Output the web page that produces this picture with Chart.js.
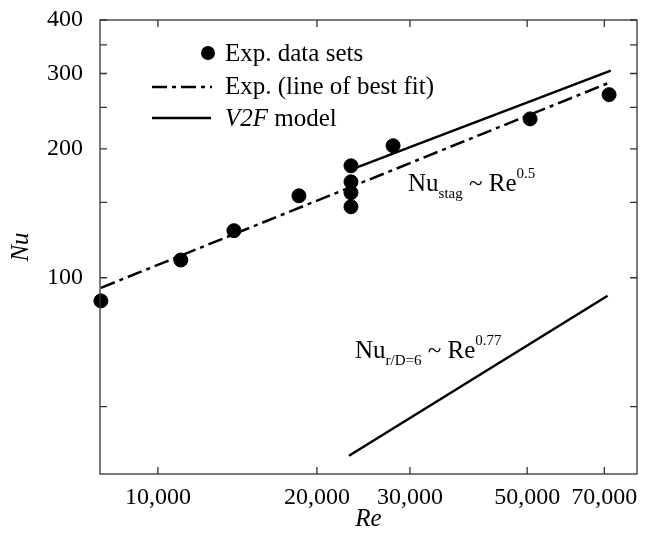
<!DOCTYPE html>
<html>
<head>
<meta charset="utf-8">
<script src="https://cdn.jsdelivr.net/npm/chart.js@4.4.1/dist/chart.umd.min.js"></script>
<style>
  html, body { margin: 0; padding: 0; background: #fff; }
</style>
</head>
<body>
<canvas id="chart" width="645" height="542"></canvas>
<script>
// Stagnation Nusselt number vs Reynolds number (log-log)

// experimental data sets
const expRe = [7800, 11050, 13930, 18490, 23200, 23200, 23200, 23200, 27870, 50640, 71450];
const expNu = [88.3, 110, 128.8, 155.4, 182.6, 167.5, 158, 146.5, 203.4, 235, 267.7];

// line of best fit (Nu ~ Re^0.5)
const fitRe = [7800, 71500];
const fitNu = [94.7, 285.5];

// V2F model, stagnation
const v2fRe = [23200, 72000];
const v2fNu = [178.8, 304.6];

// V2F model, r/D = 6
const v2fOffRe = [23000, 71000];
const v2fOffNu = [38.4, 90.8];

const reTicks = [10000, 20000, 30000, 50000, 70000];
const nuTicks = [100, 200, 300, 400];
const nuMinorTicks = [50, 150, 250, 350];

const FONT = '"Liberation Serif", "DejaVu Serif", serif';
const DASH = [15, 5, 4, 5];

const pts = (xs, ys) => xs.map((x, i) => ({ x: x, y: ys[i] }));

// draws text made of runs (normal / sub / sup)
function drawRuns(ctx, x, y, runs) {
  ctx.textBaseline = 'alphabetic';
  ctx.textAlign = 'left';
  runs.forEach(r => {
    ctx.font = (r.italic ? 'italic ' : '') + r.size + 'px ' + FONT;
    ctx.fillText(r.text, x, y + (r.dy || 0));
    x += ctx.measureText(r.text).width;
  });
}

const framePlugin = {
  id: 'frame',
  afterDraw(chart) {
    const { ctx, chartArea: a, scales } = chart;
    const xs = scales.x, ys = scales.y;
    ctx.save();

    // frame
    ctx.strokeStyle = '#333';
    ctx.lineWidth = 1.3;
    ctx.strokeRect(a.left, a.top, a.right - a.left, a.bottom - a.top);

    // inward ticks on all four sides
    const tl = 7;
    ctx.beginPath();
    reTicks.forEach(v => {
      const px = xs.getPixelForValue(v);
      ctx.moveTo(px, a.bottom); ctx.lineTo(px, a.bottom - tl);
      ctx.moveTo(px, a.top); ctx.lineTo(px, a.top + tl);
    });
    nuTicks.concat(nuMinorTicks).forEach(v => {
      const py = ys.getPixelForValue(v);
      ctx.moveTo(a.left, py); ctx.lineTo(a.left + tl, py);
      ctx.moveTo(a.right, py); ctx.lineTo(a.right - tl, py);
    });
    ctx.stroke();

    // legend
    ctx.fillStyle = '#000';
    ctx.strokeStyle = '#000';
    ctx.font = '25px ' + FONT;
    ctx.textBaseline = 'middle';
    const lx = 225;
    ctx.beginPath();
    ctx.arc(208, 53, 7, 0, Math.PI * 2);
    ctx.fill();
    ctx.fillText('Exp. data sets', lx, 54);

    ctx.lineWidth = 2.5;
    ctx.setLineDash(DASH);
    ctx.beginPath(); ctx.moveTo(152, 87); ctx.lineTo(212, 87); ctx.stroke();
    ctx.setLineDash([]);
    ctx.fillText('Exp. (line of best fit)', lx, 87);

    ctx.beginPath(); ctx.moveTo(152, 118); ctx.lineTo(211, 118); ctx.stroke();
    ctx.font = 'italic 25px ' + FONT;
    ctx.fillText('V2F', lx, 119);
    const w = ctx.measureText('V2F ').width;
    ctx.font = '25px ' + FONT;
    ctx.fillText('model', lx + w, 119);

    // annotations
    let ax = xs.getPixelForValue(29750), ay = ys.getPixelForValue(159.6);
    drawRuns(ctx, ax, ay, [
      { text: 'Nu', size: 25 },
      { text: 'stag', size: 15, dy: 7 },
      { text: ' ~ Re', size: 25 },
      { text: '0.5', size: 15, dy: -13 }
    ]);
    ax = xs.getPixelForValue(23610); ay = ys.getPixelForValue(65);
    drawRuns(ctx, ax, ay, [
      { text: 'Nu', size: 25 },
      { text: 'r/D=6', size: 15, dy: 7 },
      { text: ' ~ Re', size: 25 },
      { text: '0.77', size: 15, dy: -13 }
    ]);
    ctx.restore();
  }
};

new Chart(document.getElementById('chart').getContext('2d'), {
  type: 'scatter',
  data: {
    datasets: [
      {
        label: 'Exp. data sets',
        data: pts(expRe, expNu),
        backgroundColor: '#000',
        borderColor: '#000',
        pointRadius: 7,
        showLine: false,
        clip: false,
      },
      {
        label: 'Exp. (line of best fit)',
        data: pts(fitRe, fitNu),
        showLine: true,
        borderColor: '#000',
        borderWidth: 2.5,
        borderDash: DASH,
        pointRadius: 0,
        clip: false,
      },
      {
        label: 'V2F model',
        data: pts(v2fRe, v2fNu),
        showLine: true,
        borderColor: '#000',
        borderWidth: 2.5,
        pointRadius: 0,
        clip: false,
      },
      {
        label: 'V2F model r/D=6',
        data: pts(v2fOffRe, v2fOffNu),
        showLine: true,
        borderColor: '#000',
        borderWidth: 2.5,
        pointRadius: 0,
        clip: false,
      },
    ],
  },
  options: {
    responsive: false,
    animation: false,
    layout: { padding: { top: 20, right: 8, left: 0, bottom: 0 } },
    plugins: { legend: { display: false }, tooltip: { enabled: false } },
    scales: {
      x: {
        type: 'logarithmic',
        min: 7770, max: 80700,
        grid: { display: false, tickLength: 0 },
        border: { display: false },
        afterBuildTicks: s => { s.ticks = reTicks.map(v => ({ value: v })); },
        afterFit: s => { s.height = 68; s.paddingLeft = 0; s.paddingRight = 0; },
        ticks: {
          color: '#000',
          padding: 9,
          maxRotation: 0,
          font: { family: FONT, size: 24 },
          callback: v => v.toLocaleString('en-US'),
        },
        title: {
          display: true,
          text: 'Re',
          color: '#000',
          padding: { top: 0, bottom: 8 },
          font: { family: FONT, size: 25, style: 'italic' },
        },
      },
      y: {
        type: 'logarithmic',
        min: 34.8, max: 400,
        grid: { display: false, tickLength: 0 },
        border: { display: false },
        afterBuildTicks: s => { s.ticks = nuTicks.map(v => ({ value: v })); },
        afterFit: s => { s.width = 100; s.paddingTop = 0; s.paddingBottom = 0; },
        ticks: {
          color: '#000',
          padding: 17,
          font: { family: FONT, size: 24 },
          callback: v => String(v),
        },
        title: {
          display: true,
          text: 'Nu',
          color: '#000',
          padding: { top: 6, bottom: 0 },
          font: { family: FONT, size: 25, style: 'italic' },
        },
      },
    },
  },
  plugins: [framePlugin],
});
</script>
</body>
</html>
